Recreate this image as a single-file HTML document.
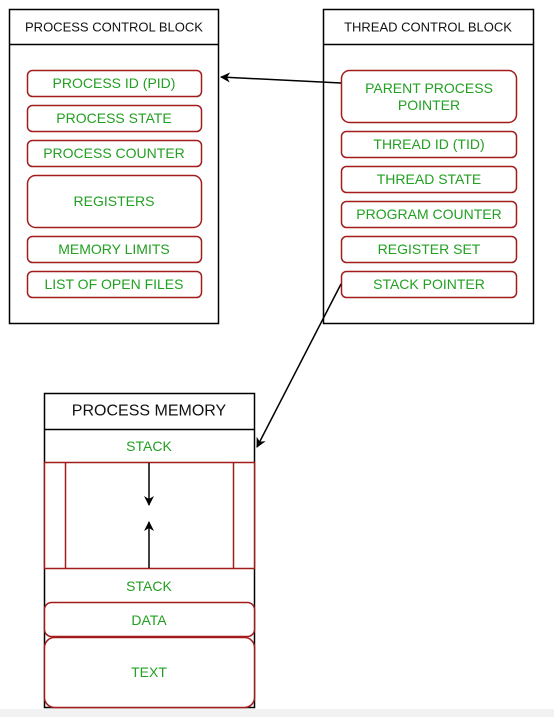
<!DOCTYPE html>
<html><head><style>body{margin:0;background:#fff}svg{display:block}text{font-family:"Liberation Sans",sans-serif;text-anchor:middle;dominant-baseline:central}</style></head><body>
<svg width="554" height="717" viewBox="0 0 554 717">
<defs><marker id="a" markerWidth="10" markerHeight="10" refX="9" refY="5" orient="auto" markerUnits="userSpaceOnUse"><path d="M0,0 L10,5 L0,10 L3,5 z" fill="#000"/></marker></defs>
<rect x="0" y="709" width="554" height="8" fill="#f2f2f2"/>
<g fill="none" stroke="#000" stroke-width="1.5">
<rect x="9.5" y="9.5" width="209" height="314"/><line x1="9.5" y1="44.5" x2="218.5" y2="44.5"/>
<rect x="323.5" y="9.5" width="210" height="314"/><line x1="323.5" y1="44.5" x2="533.5" y2="44.5"/>
<rect x="44.5" y="393.5" width="210" height="314"/><line x1="44.5" y1="429.5" x2="254.5" y2="429.5"/>
</g>
<text x="114" y="27" fill="#111" style="font-size:13px">PROCESS CONTROL BLOCK</text>
<text x="428" y="27" fill="#111" style="font-size:13px">THREAD CONTROL BLOCK</text>
<text x="149" y="411" fill="#111" style="font-size:16px">PROCESS MEMORY</text>
<g fill="#fff" stroke="#a31c1c" stroke-width="1.5">
<rect x="27.5" y="70.5" width="174" height="26" rx="5"/>
<rect x="27.5" y="105.5" width="174" height="26" rx="5"/>
<rect x="27.5" y="140.5" width="174" height="26" rx="5"/>
<rect x="27.5" y="175.5" width="174" height="52" rx="8"/>
<rect x="27.5" y="236.5" width="174" height="26" rx="5"/>
<rect x="27.5" y="271.5" width="174" height="26" rx="5"/>
<rect x="341.5" y="70.5" width="175" height="52" rx="8"/>
<rect x="341.5" y="131.5" width="175" height="26" rx="5"/>
<rect x="341.5" y="166.5" width="175" height="26" rx="5"/>
<rect x="341.5" y="201.5" width="175" height="26" rx="5"/>
<rect x="341.5" y="236.5" width="175" height="26" rx="5"/>
<rect x="341.5" y="271.5" width="175" height="26" rx="5"/>
<rect x="44.5" y="462.5" width="210" height="106"/>
<line x1="65.5" y1="462.5" x2="65.5" y2="568.5"/><line x1="233.5" y1="462.5" x2="233.5" y2="568.5"/>
<rect x="44.5" y="602.5" width="210" height="34" rx="7"/>
<rect x="44.5" y="637.5" width="210" height="70" rx="10"/>
</g>
<g fill="#22a022" style="font-size:14px">
<text x="114" y="83">PROCESS ID (PID)</text>
<text x="114" y="118">PROCESS STATE</text>
<text x="114" y="153">PROCESS COUNTER</text>
<text x="114" y="201">REGISTERS</text>
<text x="114" y="249">MEMORY LIMITS</text>
<text x="114" y="284">LIST OF OPEN FILES</text>
<text x="429" y="88">PARENT PROCESS</text>
<text x="429" y="105">POINTER</text>
<text x="429" y="144">THREAD ID (TID)</text>
<text x="429" y="179">THREAD STATE</text>
<text x="429" y="214">PROGRAM COUNTER</text>
<text x="429" y="249">REGISTER SET</text>
<text x="429" y="284">STACK POINTER</text>
<text x="149" y="446">STACK</text>
<text x="149" y="586">STACK</text>
<text x="149" y="620">DATA</text>
<text x="149" y="672">TEXT</text>
</g>
<g stroke="#000" stroke-width="1.5" fill="none">
<line x1="341" y1="83" x2="221" y2="77" marker-end="url(#a)"/>
<line x1="341" y1="284" x2="257" y2="447" marker-end="url(#a)"/>
<line x1="149" y1="463" x2="149" y2="505" marker-end="url(#a)"/>
<line x1="149" y1="568" x2="149" y2="522" marker-end="url(#a)"/>
</g>
</svg></body></html>
